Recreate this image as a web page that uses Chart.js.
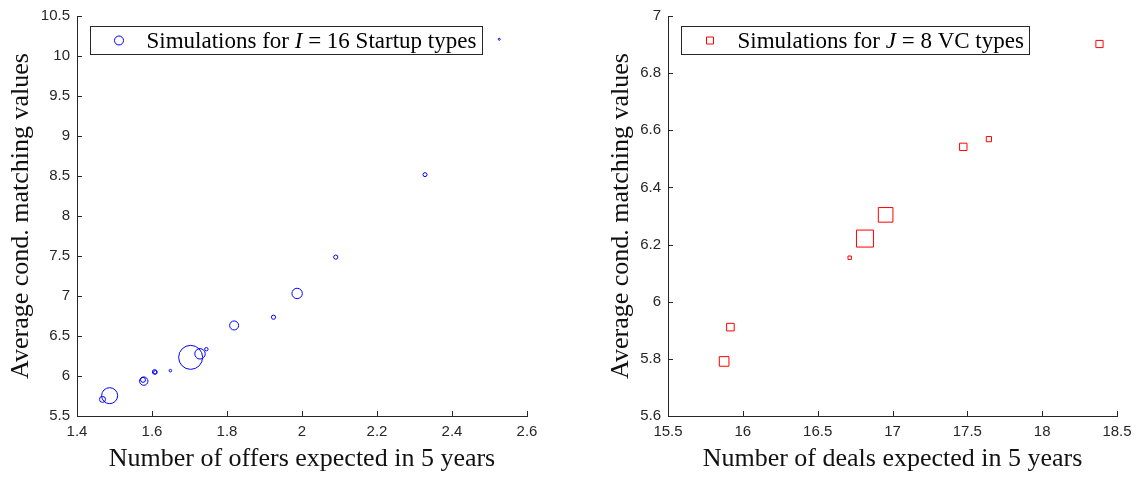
<!DOCTYPE html>
<html>
<head>
<meta charset="utf-8">
<script src="https://cdn.jsdelivr.net/npm/chart.js@4.4.1/dist/chart.umd.min.js"></script>
<style>
  html, body { margin: 0; padding: 0; background: #fff; }
  canvas { position: absolute; top: 0; }
  #left { left: 0; }
  #right { left: 570px; }
</style>
</head>
<body>
<canvas id="left" width="570" height="477"></canvas>
<canvas id="right" width="569" height="477"></canvas>
<script>
"use strict";

// left panel: I = 16 startup types
const offers = [1.468, 1.487, 1.576, 1.578, 1.607, 1.609, 1.649, 1.703,
    1.728, 1.745, 1.819, 1.924, 1.987, 2.090, 2.328, 2.526],
  offerValues = [5.708, 5.754, 5.952, 5.936, 6.051, 6.046, 6.067, 6.233,
    6.277, 6.335, 6.632, 6.735, 7.032, 7.486, 8.517, 10.209],
  offerWeights = [3, 8, 2.5, 4.2, 2.3, 1.8, 1.3, 12, 5.2, 1.7, 4.5, 2.1, 5.2, 2.1, 2, 1],
  offerTicks = [1.4, 1.6, 1.8, 2, 2.2, 2.4, 2.6],
  offerValueTicks = [5.5, 6, 6.5, 7, 7.5, 8, 8.5, 9, 9.5, 10, 10.5];

// right panel: J = 8 VC types
const deals = [15.875, 15.917, 16.714, 16.816, 16.954, 17.473, 17.644, 18.383],
  dealValues = [5.791, 5.911, 6.154, 6.221, 6.304, 6.542, 6.569, 6.902],
  dealWeights = [4.8, 3.8, 1.7, 8.5, 7.3, 3.7, 2.6, 3.6],
  dealTicks = [15.5, 16, 16.5, 17, 17.5, 18, 18.5],
  dealValueTicks = [5.6, 5.8, 6, 6.2, 6.4, 6.6, 6.8, 7];

const ink = "#262626",
  tickFont = { family: '"Liberation Sans", Arial, sans-serif', size: 15 },
  serif = '"Liberation Serif", "Times New Roman", serif';

// matlab style: ticks point into the plot
const inwardTicks = {
  id: "inwardTicks",
  afterDraw(chart) {
    const { ctx, chartArea: a, scales: { x, y } } = chart;
    ctx.save();
    ctx.strokeStyle = ink;
    ctx.lineWidth = 1;
    ctx.beginPath();
    x.ticks.forEach(t => {
      const px = Math.round(x.getPixelForValue(t.value)) + 0.5;
      ctx.moveTo(px, a.bottom);
      ctx.lineTo(px, a.bottom - 5);
    });
    y.ticks.forEach(t => {
      const py = Math.round(y.getPixelForValue(t.value)) + 0.5;
      ctx.moveTo(a.left, py);
      ctx.lineTo(a.left + 5, py);
    });
    ctx.stroke();
    ctx.restore();
  }
};

// legend box inside the axes, text between $..$ is italic
const boxLegend = {
  id: "boxLegend",
  afterDraw(chart) {
    const { ctx, chartArea: a } = chart,
      ds = chart.data.datasets[0],
      parts = ds.label.split("$"),
      size = 23;
    const fontOf = i => (i % 2 ? "italic " : "") + size + "px " + serif;
    ctx.save();
    let w = 0;
    parts.forEach((p, i) => { ctx.font = fontOf(i); w += ctx.measureText(p).width; });
    const bx = Math.round(a.left + 13) + 0.5, by = Math.round(a.top + 10) + 0.5,
      bw = Math.round(56 + w + 6), bh = 28, cy = by + bh / 2;
    ctx.fillStyle = "#fff";
    ctx.fillRect(bx, by, bw, bh);
    ctx.strokeStyle = ink;
    ctx.lineWidth = 1;
    ctx.strokeRect(bx, by, bw, bh);

    ctx.strokeStyle = ds.borderColor;
    ctx.beginPath();
    if (ds.pointStyle === "rect") ctx.rect(bx + 25, cy - 3.5, 7, 7);
    else ctx.arc(bx + 28.5, cy, 4.5, 0, Math.PI * 2);
    ctx.stroke();

    ctx.fillStyle = "#000";
    ctx.textBaseline = "middle";
    let tx = bx + 56;
    parts.forEach((p, i) => {
      ctx.font = fontOf(i);
      ctx.fillText(p, tx, cy + 1);
      tx += ctx.measureText(p).width;
    });
    ctx.restore();
  }
};

function axis(min, max, ticks, title, extra) {
  return Object.assign({
    type: "linear",
    min: min,
    max: max,
    afterBuildTicks: s => { s.ticks = ticks.map(v => ({ value: v })); },
    grid: { display: false, drawTicks: false },
    border: { color: ink, width: 1 },
    ticks: { color: ink, font: tickFont, autoSkip: false, maxRotation: 0, callback: v => String(v) },
    title: { display: true, text: title, color: "#111", font: { family: serif, size: 26 } }
  }, extra);
}

function panel(id, xs, ys, ws, color, style, label, xr, yr, xTitle, yw, titlePad, padRight, padTop) {
  // squares in chart.js are drawn with half side = r / sqrt(2)
  const k = style === "rect" ? Math.SQRT2 : 1;
  const x = axis(xr[0], xr[1], xr[2], xTitle, {
    afterFit: s => { s.height = 477 - 416; }
  });
  x.ticks.padding = 7;
  x.title.padding = { top: 0, bottom: 2 };
  const y = axis(yr[0], yr[1], yr[2], "Average cond. matching values", {
    afterFit: s => { s.width = yw; }
  });
  y.ticks.padding = 7;
  y.title.padding = { top: titlePad, bottom: 0 };

  return new Chart(document.getElementById(id), {
    type: "bubble",
    data: {
      datasets: [{
        label: label,
        data: xs.map((v, i) => ({ x: v, y: ys[i], r: ws[i] * k })),
        pointStyle: style,
        borderColor: color,
        backgroundColor: "rgba(0,0,0,0)",
        borderWidth: 1
      }]
    },
    options: {
      responsive: false,
      animation: false,
      events: [],
      layout: { padding: { top: padTop, right: padRight, left: 0, bottom: 0 } },
      plugins: { legend: { display: false }, tooltip: { enabled: false } },
      scales: { x: x, y: y }
    },
    plugins: [inwardTicks, boxLegend]
  });
}

panel("left", offers, offerValues, offerWeights, "#0000ff", "circle",
  "Simulations for $I$ = 16 Startup types",
  [1.4, 2.6, offerTicks], [5.5, 10.5, offerValueTicks],
  "Number of offers expected in 5 years", 77, 6, 43, 12);

panel("right", deals, dealValues, dealWeights, "#ff0000", "rect",
  "Simulations for $J$ = 8 VC types",
  [15.5, 18.5, dealTicks], [5.6, 7, dealValueTicks],
  "Number of deals expected in 5 years", 98, 36, 22, 10);
</script>
</body>
</html>
